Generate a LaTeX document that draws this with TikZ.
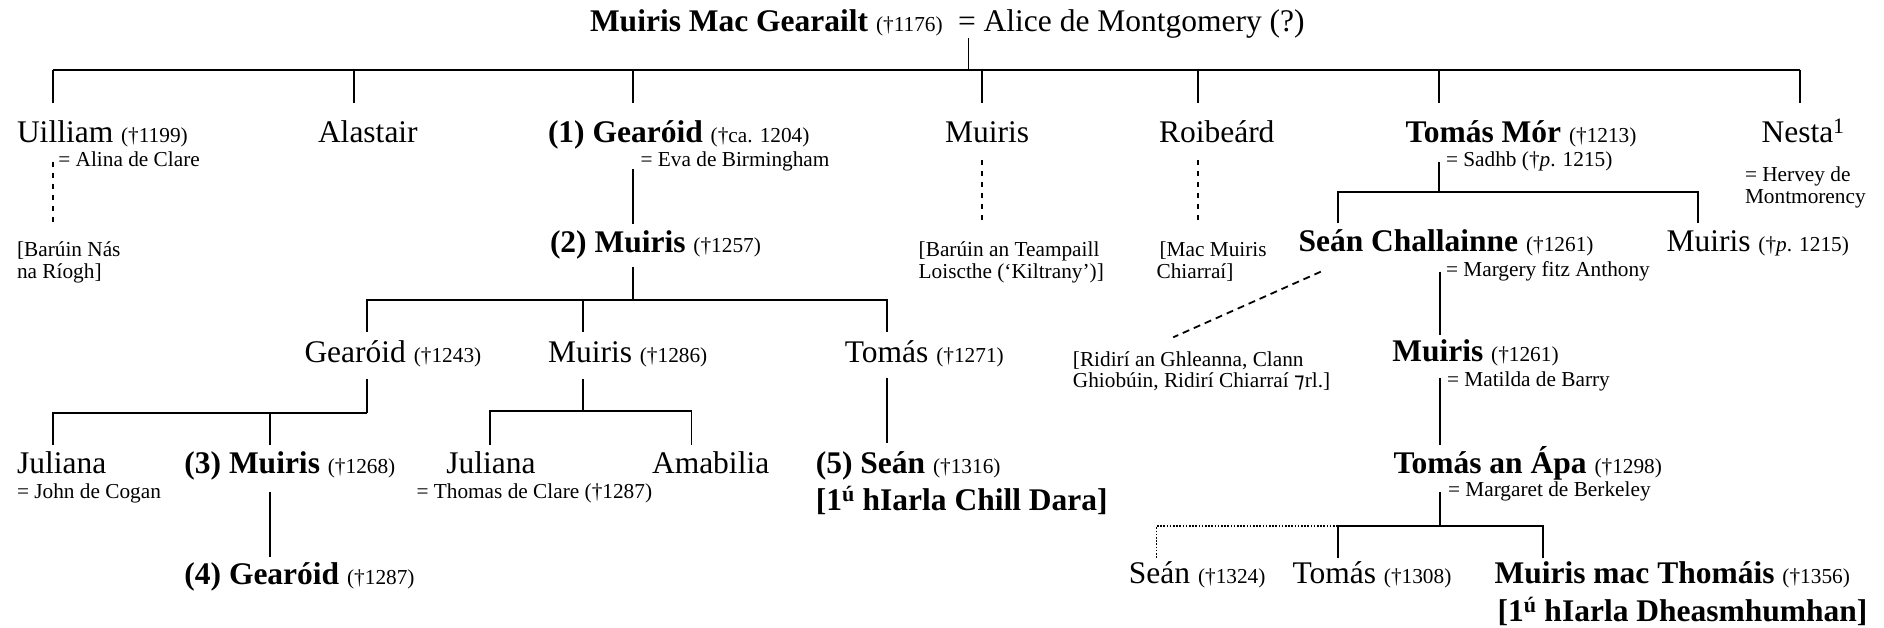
\documentclass[tikz,border=0pt]{standalone}
\usepackage{fontspec}
\setmainfont{Liberation Serif}
\newfontfamily\tironfont{DejaVu Sans}

% small death-year annotation set after a name
\newcommand{\deathyr}[1]{{\fontsize{21.3}{21.5}\selectfont(†#1)}}

% multi-line nodes are placed by the baseline of their last line
\tikzset{
  every node/.style={inner sep=0pt, outer sep=0pt, anchor=base west},
  big/.style={font=\fontsize{31.5}{37.5}\selectfont, align=left},
  sm/.style={font=\fontsize{21.3}{21.5}\selectfont, align=left},
  link/.style={line width=1.8pt},
  dashlink/.style={line width=1.8pt, dash pattern=on 5.5pt off 5.5pt},
  dotlink/.style={line width=1.6pt, dash pattern=on 1.6pt off 1.6pt},
}

\begin{document}
\begin{tikzpicture}[x=1pt, y=-1pt]
\useasboundingbox (0,0) rectangle (1884,628);

% ---- generation 0
\node[big] (founder) at (590,32) {\textbf{Muiris Mac Gearailt} \deathyr{1176}};
\node[big] (alice) at (958,32) {= Alice de Montgomery (?)};

% ---- generation 1
\node[big] (uilliam)  at (17,142.7)    {Uilliam \deathyr{1199}};
\node[sm]  (uilliamw) at (58.3,166.7)  {= Alina de Clare};
\node[sm]  (nas)      at (17,278.2)    {[Barúin Nás\\na Ríogh]};
\node[big] (alastair) at (318,142.7)   {Alastair};
\node[big] (gearoidA) at (548,142.7)   {\textbf{(1) Gearóid} \deathyr{ca. 1204}};
\node[sm]  (gearoidAw) at (640.6,166.7) {= Eva de Birmingham};
\node[big] (muirisA)  at (945,142.7)   {Muiris};
\node[sm]  (teampall) at (918.7,278.2) {[Barúin an Teampaill\\Loiscthe (‘Kiltrany’)]};
\node[big] (roibeard) at (1159,142.7)  {Roibeárd};
\node[sm]  (macmuiris) at (1156.6,278.2) {\hspace*{3pt}[Mac Muiris\\Chiarraí]};
\node[big] (tomasmor) at (1405.7,142.7) {\textbf{Tomás Mór} \deathyr{1213}};
\node[sm]  (tomasmorw) at (1446,166.7) {= Sadhb (†\textit{p}. 1215)};
\node[big] (nesta)    at (1761.5,142.7) {Nesta\textsuperscript{1}};
\node[sm]  (nestaw)   at (1745,203.3)  {= Hervey de\\Montmorency};

% ---- generation 2
\node[big] (muirisB)  at (550,252.5)   {\textbf{(2) Muiris} \deathyr{1257}};
\node[big] (seanch)   at (1298.5,252)  {\textbf{Seán Challainne} \deathyr{1261}};
\node[sm]  (seanchw)  at (1446,276.7)  {= Margery fitz Anthony};
\node[big] (muirisp)  at (1666.5,252)  {Muiris \deathyr{\textit{p}. 1215}};

% ---- generation 3
\node[big] (gearoidC) at (304.5,362.7) {Gearóid \deathyr{1243}};
\node[big] (muirisC)  at (548,362.7)   {Muiris \deathyr{1286}};
\node[big] (tomasC)   at (844.9,362.7) {Tomás \deathyr{1271}};
\node[sm]  (ridiri)   at (1072.9,387.5) {[Ridirí an Ghleanna, Clann\\Ghiobúin, Ridirí Chiarraí {\tironfont ⁊}rl.]};
\node[big] (muirisK)  at (1392.3,361.7) {\textbf{Muiris} \deathyr{1261}};
\node[sm]  (muirisKw) at (1447,386.7)  {= Matilda de Barry};

% ---- generation 4
\node[big] (julianaA) at (17,473.3)    {Juliana};
\node[sm]  (julianaAw) at (17,498.3)   {= John de Cogan};
\node[big] (muirisD)  at (184.4,473.3) {\textbf{(3) Muiris} \deathyr{1268}};
\node[big] (julianaB) at (446.4,473.3) {Juliana};
\node[sm]  (julianaBw) at (416.5,498.3) {= Thomas de Clare (†1287)};
\node[big] (amabilia) at (652,473.3)   {Amabilia};
\node[big] (seanD)    at (815.8,510.5) {\textbf{(5) Seán} \deathyr{1316}\\\textbf{[1\textsuperscript{ú} hIarla Chill Dara]}};
\node[big] (tomasapa) at (1393.5,473.3) {\textbf{Tomás an Ápa} \deathyr{1298}};
\node[sm]  (tomasapaw) at (1448,496.7) {= Margaret de Berkeley};

% ---- generation 5
\node[big] (gearoidE) at (184.4,584)   {\textbf{(4) Gearóid} \deathyr{1287}};
\node[big] (seanE)    at (1128.9,583.3) {Seán \deathyr{1324}};
\node[big] (tomasE)   at (1292.5,583.3) {Tomás \deathyr{1308}};
\node[big] (muirisE)  at (1494.6,621.3) {\textbf{Muiris mac Thomáis} \deathyr{1356}\\\hspace*{3pt}\textbf{[1\textsuperscript{ú} hIarla Dheasmhumhan]}};

% ---- junction points
\coordinate (m0) at (968.4,38);
\coordinate (m0b) at (968.4,70);
\coordinate (barL) at (52.7,70);
\coordinate (barR) at (1800,70);
\foreach \n/\x in {uilliam/52.7, alastair/354, gearoidA/633, muirisA/981.7,
                   roibeard/1198, tomasmor/1439.2, nesta/1800}{
  \coordinate (\n-in) at (\x,70);
  \coordinate (\n-top) at (\x,102.7);
}
\coordinate (uilliam-d1) at (52.7,161.7);
\coordinate (uilliam-d2) at (52.7,223);
\coordinate (muirisA-d1) at (981.7,160);
\coordinate (muirisA-d2) at (981.7,223);
\coordinate (roibeard-d1) at (1198,160);
\coordinate (roibeard-d2) at (1198,223);
\coordinate (gearoidA-d1) at (633,169);
\coordinate (muirisB-top) at (633,224);

\coordinate (tomasmor-d1) at (1439.2,161.7);
\coordinate (tomasmor-bar) at (1439.2,192.3);
\coordinate (seanch-bar) at (1337.7,192.3);
\coordinate (seanch-top) at (1337.7,223.3);
\coordinate (muirisp-bar) at (1697.6,192.3);
\coordinate (muirisp-top) at (1697.6,223.3);

\coordinate (muirisB-d1) at (633,267);
\coordinate (muirisB-bar) at (633,300);
\coordinate (gearoidC-bar) at (367,300);
\coordinate (gearoidC-top) at (367,331.7);
\coordinate (muirisC-bar) at (583,300);
\coordinate (muirisC-top) at (583,331.7);
\coordinate (tomasC-bar) at (887,300);
\coordinate (tomasC-top) at (887,331.7);

\coordinate (gearoidC-d1) at (367,379.3);
\coordinate (gearoidC-bar2) at (367,412.7);
\coordinate (julianaA-bar) at (52.7,412.7);
\coordinate (julianaA-top) at (52.7,445);
\coordinate (muirisD-bar) at (270,412.7);
\coordinate (muirisD-top) at (270,445);

\coordinate (muirisC-d1) at (583,379.3);
\coordinate (muirisC-bar2) at (583,411);
\coordinate (julianaB-bar) at (489.7,411);
\coordinate (julianaB-top) at (489.7,445);
\coordinate (amabilia-bar) at (691.5,411);
\coordinate (amabilia-top) at (691.5,445);

\coordinate (tomasC-d1) at (887,378.3);
\coordinate (seanD-top) at (887,442.7);
\coordinate (muirisD-d1) at (270,491.7);
\coordinate (gearoidE-top) at (270,556.7);

\coordinate (seanch-d1) at (1440,271.7);
\coordinate (muirisK-top) at (1440,335);
\coordinate (seanch-diag) at (1320.8,271.7);
\coordinate (ridiri-end) at (1173.2,337.3);
\coordinate (muirisK-d1) at (1440,378.3);
\coordinate (tomasapa-top) at (1440,445);
\coordinate (tomasapa-d1) at (1440,491.7);
\coordinate (tomasapa-bar) at (1440,526);
\coordinate (tomasE-bar) at (1337.7,526);
\coordinate (tomasE-top) at (1337.7,558.3);
\coordinate (muirisE-bar) at (1543.2,526);
\coordinate (muirisE-top) at (1543.2,558.3);
\coordinate (seanE-bar) at (1156.6,526);
\coordinate (seanE-top) at (1156.6,558.3);

% ---- connectors
\draw[link] (m0) -- (m0b);
\draw[link] (barL) -- (barR);
\foreach \n in {uilliam, alastair, gearoidA, muirisA, roibeard, tomasmor, nesta}
  \draw[link] (\n-in) -- (\n-top);
\draw[dashlink] (uilliam-d1) -- (uilliam-d2);
\draw[dashlink] (muirisA-d1) -- (muirisA-d2);
\draw[dashlink] (roibeard-d1) -- (roibeard-d2);
\draw[link] (gearoidA-d1) -- (muirisB-top);

\draw[link] (tomasmor-d1) -- (tomasmor-bar);
\draw[link] (seanch-top) -- (seanch-bar) -- (muirisp-bar) -- (muirisp-top);

\draw[link] (muirisB-d1) -- (muirisB-bar);
\draw[link] (gearoidC-top) -- (gearoidC-bar) -- (tomasC-bar) -- (tomasC-top);
\draw[link] (muirisC-bar) -- (muirisC-top);

\draw[link] (gearoidC-d1) -- (gearoidC-bar2);
\draw[link] (julianaA-top) -- (julianaA-bar) -- (gearoidC-bar2);
\draw[link] (muirisD-bar) -- (muirisD-top);

\draw[link] (muirisC-d1) -- (muirisC-bar2);
\draw[link] (julianaB-top) -- (julianaB-bar) -- (amabilia-bar) -- (amabilia-top);

\draw[link] (tomasC-d1) -- (seanD-top);
\draw[link] (muirisD-d1) -- (gearoidE-top);

\draw[link] (seanch-d1) -- (muirisK-top);
\draw[dashlink, dash pattern=on 7pt off 5pt] (seanch-diag) -- (ridiri-end);
\draw[link] (muirisK-d1) -- (tomasapa-top);
\draw[link] (tomasapa-d1) -- (tomasapa-bar);
\draw[link] (tomasE-top) -- (tomasE-bar) -- (muirisE-bar) -- (muirisE-top);
\draw[dotlink] (tomasE-bar) -- (seanE-bar) -- (seanE-top);
\end{tikzpicture}
\end{document}
